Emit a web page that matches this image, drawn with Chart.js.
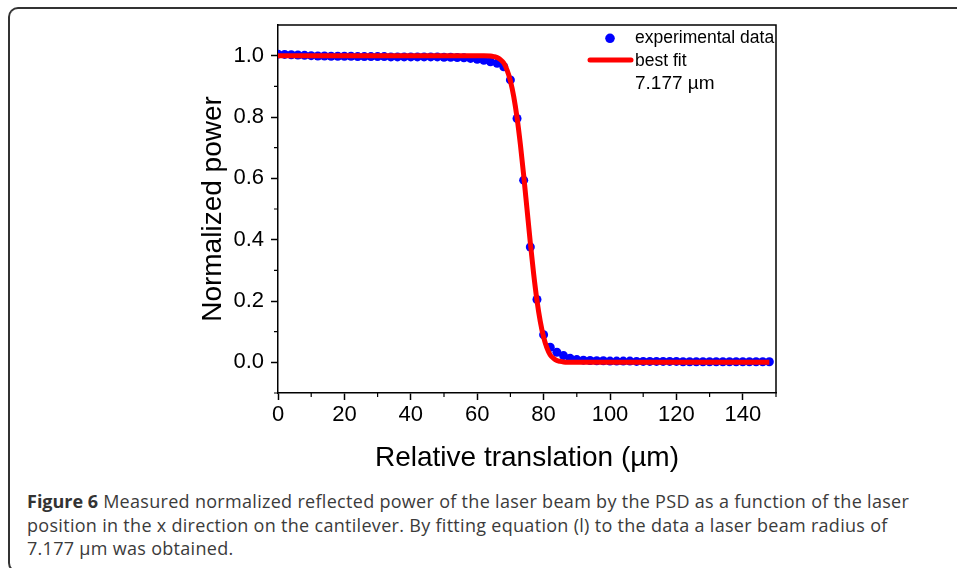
<!DOCTYPE html>
<html><head><meta charset="utf-8">
<script src="https://cdn.jsdelivr.net/npm/chart.js@4.4.0/dist/chart.umd.min.js"></script>
<style>
html,body{margin:0;padding:0;background:#fff;width:957px;height:568px;overflow:hidden;}
#frame{position:absolute;left:8px;top:7px;width:1000px;height:566px;border-top:2px solid #333;border-left:2px solid #333;border-bottom:2px solid #333;border-top-left-radius:10px;border-bottom-left-radius:10px;box-sizing:border-box;}
#wrap{position:absolute;left:0;top:0;width:957px;height:480px;}
#caption{position:absolute;left:27px;top:490px;font-family:'Open Sans',sans-serif;font-size:18px;letter-spacing:0.3px;line-height:23.5px;color:#3b3b3b;white-space:nowrap;}
#caption b{color:#333;letter-spacing:0;}
</style></head>
<body>
<div id="frame"></div>
<div id="wrap"><canvas id="c" width="957" height="480"></canvas></div>
<div id="caption"><b>Figure 6</b> Measured normalized reflected power of the laser beam by the PSD as a function of the laser<br>position in the x direction on the cantilever. By fitting equation (l) to the data a laser beam radius of<br>7.177 µm was obtained.</div>
<script>
// experimental data (x in µm, normalized power)
const expX = [0,2,4,6,8,10,12,14,16,18,20,22,24,26,28,30,32,34,36,38,40,42,44,46,48,50,52,54,56,58,60,62,64,66,68,70,72,74,76,78,80,82,84,86,88,90,92,94,96,98,100,102,104,106,108,110,112,114,116,118,120,122,124,126,128,130,132,134,136,138,140,142,144,146,148];
const expY = [1.005,1.004,1.003,1.002,1.001,1.000,0.999,0.999,0.998,0.998,0.998,0.998,0.997,0.997,0.997,0.997,0.997,0.996,0.996,0.996,0.996,0.996,0.996,0.996,0.996,0.995,0.995,0.994,0.993,0.991,0.988,0.985,0.980,0.975,0.964,0.921,0.795,0.594,0.376,0.205,0.090,0.049,0.033,0.022,0.013,0.009,0.007,0.006,0.005,0.005,0.004,0.004,0.004,0.004,0.003,0.003,0.003,0.003,0.003,0.003,0.003,0.002,0.002,0.002,0.002,0.002,0.002,0.002,0.002,0.002,0.002,0.002,0.002,0.002,0.002];
// best fit curve
const fitX = [0,10,20,30,40,50,60,62,64,65,66,67,68,69,70,71,72,73,74,75,76,77,78,79,80,81,82,83,84,85,86,87,88,90,100,110,120,130,140,148];
const fitY = [1.0,1.0,1.0,1.0,1.0,1.0,1.0,1.0,0.999,0.997,0.994,0.987,0.976,0.953,0.918,0.867,0.798,0.711,0.610,0.500,0.390,0.289,0.202,0.133,0.082,0.047,0.024,0.013,0.006,0.003,0.001,0.0,0.0,0.0,0.0,0.0,0.0,0.0,0.0,0.0];
// ticks
const xTickValues = [0,20,40,60,80,100,120,140];
const xMinorTicks = [10,30,50,70,90,110,130,150];
const yTickValues = [0.0,0.2,0.4,0.6,0.8,1.0];
const yMinorTicks = [-0.1,0.1,0.3,0.5,0.7,0.9];
const legendLabels = ['experimental data','best fit','7.177 µm'];

const FONT = "'Liberation Sans', Arial, sans-serif";

const decor = {
  id:'decor',
  afterDraw(chart){
    const {ctx, chartArea:a, scales:{x,y}} = chart;
    ctx.save();
    ctx.strokeStyle='#000'; ctx.lineWidth=1.5;
    ctx.beginPath();
    ctx.moveTo(a.left, a.top); ctx.lineTo(a.right, a.top); ctx.lineTo(a.right, a.bottom);
    ctx.stroke();
    ctx.lineWidth=1.2;
    ctx.beginPath();
    xMinorTicks.forEach(v=>{const px=x.getPixelForValue(v); ctx.moveTo(px,a.bottom); ctx.lineTo(px,a.bottom+4);});
    yMinorTicks.forEach(v=>{const py=y.getPixelForValue(v); ctx.moveTo(a.left,py); ctx.lineTo(a.left-4,py);});
    ctx.stroke();
    const tx = a.right - 141;
    ctx.fillStyle='#0000ff';
    ctx.beginPath(); ctx.arc(tx-25, a.top+13.3, 4.8, 0, Math.PI*2); ctx.fill();
    ctx.strokeStyle='#ff0000'; ctx.lineWidth=5; ctx.lineCap='round';
    ctx.beginPath(); ctx.moveTo(tx-45, a.top+35); ctx.lineTo(tx-4, a.top+35); ctx.stroke();
    ctx.fillStyle='#000'; ctx.textAlign='left'; ctx.textBaseline='alphabetic';
    ctx.font = '17.5px '+FONT;
    ctx.fillText(legendLabels[0], tx, a.top+18.3);
    ctx.fillText(legendLabels[1], tx, a.top+41);
    ctx.font = '19px '+FONT;
    ctx.fillText(legendLabels[2], tx, a.top+64.3);
    ctx.restore();
  }
};

new Chart(document.getElementById('c'), {
  type:'scatter',
  data:{
    datasets:[
      {label:'best fit', data: fitX.map((v,i)=>({x:v,y:fitY[i]})), showLine:true, borderColor:'#ff0000', borderWidth:5, pointRadius:0, cubicInterpolationMode:'monotone', order:0},
      {label:'experimental data', data: expX.map((v,i)=>({x:v,y:expY[i]})), showLine:false, backgroundColor:'#0000ff', borderWidth:0, pointRadius:4.5, order:1}
    ]
  },
  options:{
    responsive:false, animation:false,
    layout:{padding:{left:199, top:25, right:181, bottom:8}},
    plugins:{legend:{display:false}, tooltip:{enabled:false}},
    scales:{
      x:{type:'linear', min:0, max:150,
        afterBuildTicks:s=>{s.ticks = xTickValues.map(v=>({value:v}));},
        afterFit:s=>{s.height=79;},
        ticks:{font:{family:FONT,size:22}, color:'#000', padding:2, callback:v=>String(v)},
        grid:{drawOnChartArea:false, drawTicks:true, tickLength:7, tickWidth:1.5, tickColor:'#000'},
        border:{display:true, color:'#000', width:1.5},
        title:{display:true, text:'Relative translation (µm)', font:{family:FONT,size:28,lineHeight:1}, color:'#000', padding:0}
      },
      y:{type:'linear', min:-0.1, max:1.1,
        afterBuildTicks:s=>{s.ticks = yTickValues.map(v=>({value:v}));},
        afterFit:s=>{s.width=79;},
        ticks:{font:{family:FONT,size:22}, color:'#000', padding:7, callback:v=>Number(v).toFixed(1)},
        grid:{drawOnChartArea:false, drawTicks:true, tickLength:7, tickWidth:1.5, tickColor:'#000'},
        border:{display:true, color:'#000', width:1.5},
        title:{display:true, text:'Normalized power', font:{family:FONT,size:28,lineHeight:1}, color:'#000', padding:0}
      }
    }
  },
  plugins:[decor]
});
</script>
</body></html>
